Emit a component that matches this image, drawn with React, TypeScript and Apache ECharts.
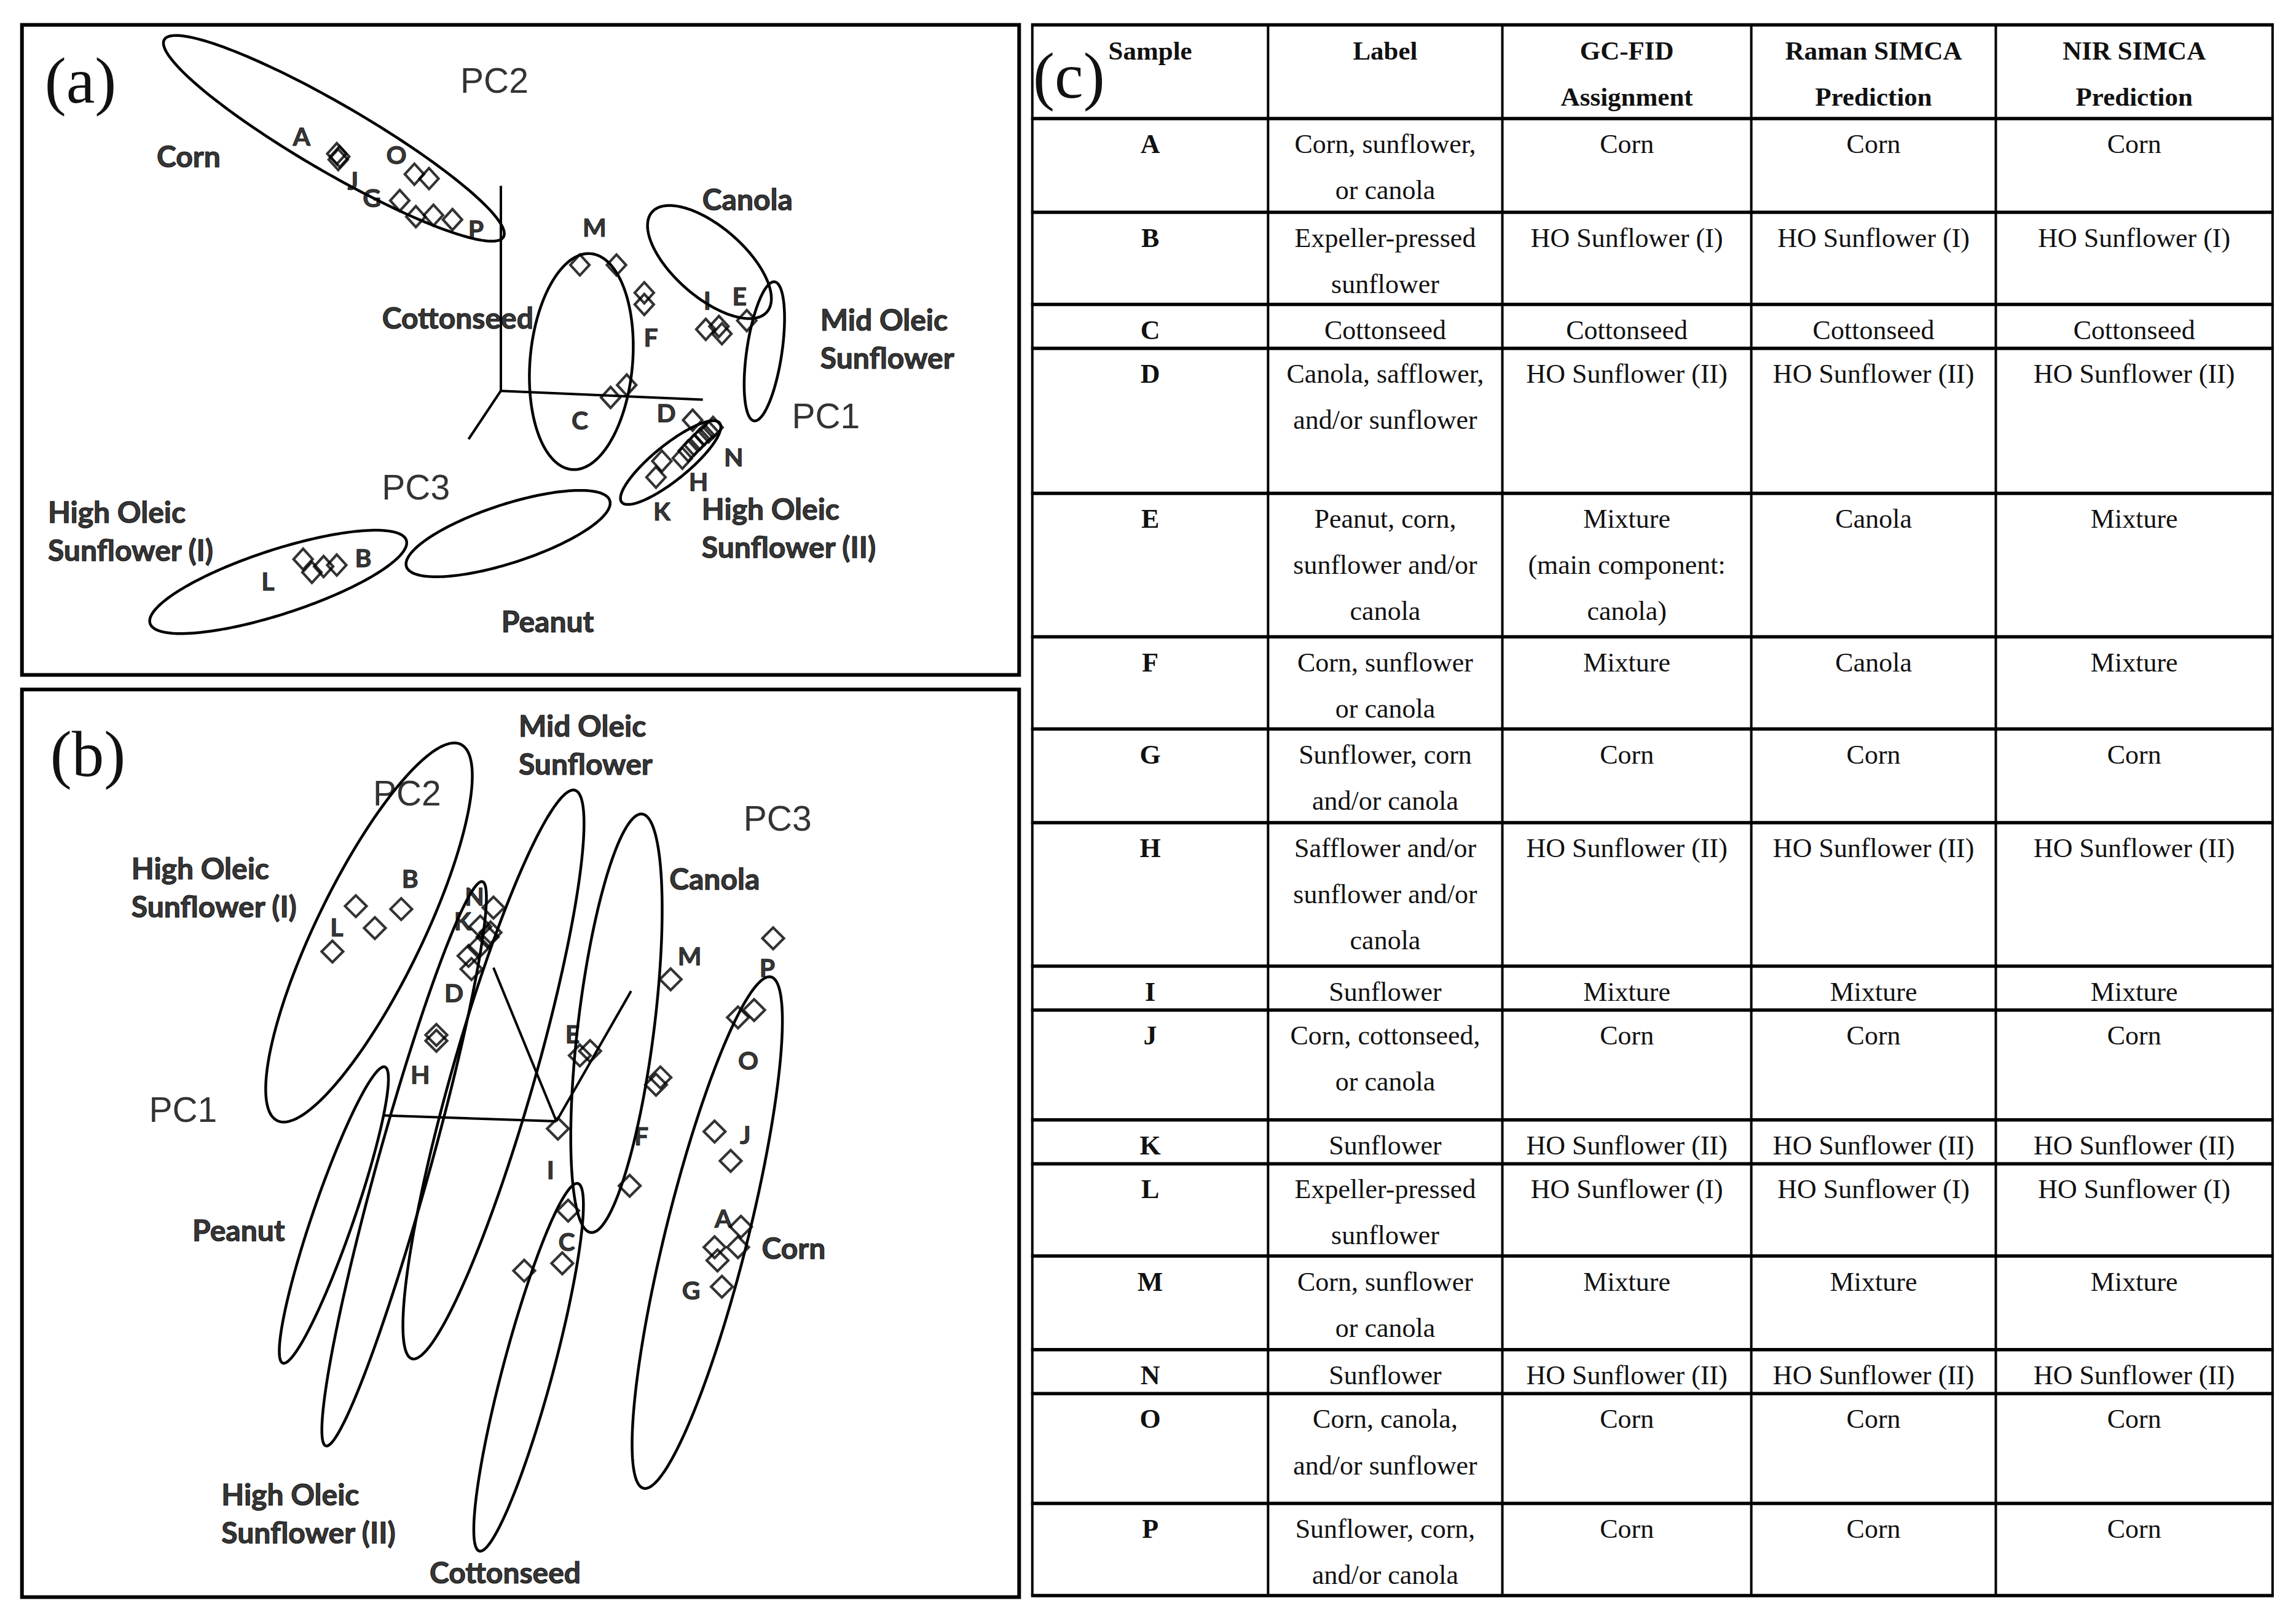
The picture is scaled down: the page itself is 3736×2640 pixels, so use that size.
import React, { useEffect, useRef } from "react";
import * as echarts from "echarts";

const W = 3736;
const H = 2640;
const S = 3736 / 1568;

// ---------- Panel (a): score positions (plot units) ----------
const aScores: [number, number][] = [
  [230, 105], [231, 109], [232, 107], [283, 119], [293, 122], [273, 137], [284, 148], [296, 147], [309, 150],
  [396, 181], [421, 181], [440, 200], [440, 208], [417, 271.5], [428, 263],
  [482, 225], [491, 223], [493, 228], [510, 219],
  [473, 287], [487, 292], [484, 295], [481, 297], [478, 300], [474, 304], [470, 308], [466, 313], [452, 315], [448, 326],
  [207, 382], [213, 391], [221, 387], [230, 386],
];
// ellipses: [cx, cy, semi-major, semi-minor, angle(deg)]
const aEllipseNames = ["Corn", "Cottonseed", "Canola", "Mid Oleic", "HO (II)", "Peanut", "HO (I)"];
const aEllipses: number[][] = [
  [228, 94.5, 134, 23, 30.2],
  [397, 247, 74, 35, -85],
  [484.5, 179, 52, 24, 41],
  [522, 240, 48, 12, -81.6],
  [458, 316, 43, 12, -39],
  [347, 364.5, 73, 20, -18],
  [190, 397.5, 92, 22, -18],
];
const aAxes: number[][][] = [
  [[342, 267], [342, 127]],
  [[342, 267], [480, 273]],
  [[342, 267], [320, 300]],
];
const aPointLabels: [string, number, number][] = [
  ["A", 206, 93], ["O", 270.7, 105.5], ["J", 241, 123], ["G", 254, 135], ["P", 325, 156.5],
  ["M", 406, 155], ["F", 444.5, 230], ["I", 483, 205], ["E", 505, 202], ["C", 396, 287],
  ["D", 455, 282], ["N", 501, 312], ["H", 477, 329], ["K", 452, 349], ["L", 183, 397], ["B", 248, 381],
];
const aGroupLabels: [string, number, number][] = [
  ["Corn", 128.8, 106.4], ["Canola", 510.5, 135.8], ["Cottonseed", 312.6, 216.7], ["Peanut", 374, 424],
];
const aGroupLabelsLeft: [string, number, number][] = [
  ["Mid Oleic\nSunflower", 560, 231],
  ["High Oleic\nSunflower (I)", 32.5, 362.5],
  ["High Oleic\nSunflower (II)", 479, 360.5],
];
const aPcLabels: [string, number, number][] = [["PC2", 337.6, 54.9], ["PC1", 564, 284], ["PC3", 284, 333]];

// ---------- Panel (b) ----------
const bScores: [number, number][] = [
  [243, 619], [256, 634], [274, 621], [227, 650],
  [337, 620], [328, 633], [333, 640], [327, 647], [320, 653], [322, 662], [335, 637],
  [298, 707], [298, 711],
  [396, 721], [403, 718],
  [448, 741], [451, 736], [430, 810],
  [381, 771],
  [458, 669],
  [528, 641],
  [504, 695], [515, 690],
  [488, 773], [499, 793],
  [388, 827], [384, 863], [358, 868],
  [506, 838], [488, 852], [504, 852], [490, 861], [493, 879],
];
const bEllipseNames = ["HO (I)", "Mid Oleic", "HO (II)", "Peanut", "Canola", "Cottonseed", "Corn"];
const bEllipses: number[][] = [
  [252, 637, 143, 36, -64],
  [337, 734, 202, 28, -74],
  [276, 795, 200, 18, -74.5],
  [228, 830, 107, 14, -71],
  [421, 699, 144, 26, -83],
  [361, 934, 130, 17, -75],
  [483, 842, 180, 28, -76],
];
const bAxes: number[][][] = [
  [[380, 766], [262, 762]],
  [[380, 766], [337, 661]],
  [[380, 766], [431, 677]],
];
const bPointLabels: [string, number, number][] = [
  ["B", 280, 600], ["L", 230, 633], ["N", 324, 612], ["K", 316, 629], ["D", 310, 678], ["H", 287, 734],
  ["M", 471, 653], ["P", 524, 661], ["E", 391, 706], ["O", 511, 724], ["F", 438, 776], ["J", 509, 775],
  ["I", 376, 799], ["A", 494, 832], ["C", 387, 848], ["G", 472, 881],
];
const bGroupLabels: [string, number, number][] = [
  ["Canola", 488, 600], ["Peanut", 163, 840], ["Corn", 542, 852], ["Cottonseed", 345, 1074],
];
const bGroupLabelsLeft: [string, number, number][] = [
  ["Mid Oleic\nSunflower", 354, 508.5],
  ["High Oleic\nSunflower (I)", 89.5, 606],
  ["High Oleic\nSunflower (II)", 151, 1033.5],
];
const bPcLabels: [string, number, number][] = [["PC2", 278, 542], ["PC3", 531, 559], ["PC1", 125, 758]];

// ---------- Table (c) ----------
const tableHeader = ["Sample", "Label", "GC-FID\nAssignment", "Raman SIMCA\nPrediction", "NIR SIMCA\nPrediction"];
const sampleIds = ["A", "B", "C", "D", "E", "F", "G", "H", "I", "J", "K", "L", "M", "N", "O", "P"];
const sampleLabels = [
  "Corn, sunflower,\nor canola",
  "Expeller-pressed\nsunflower",
  "Cottonseed",
  "Canola, safflower,\nand/or sunflower",
  "Peanut, corn,\nsunflower and/or\ncanola",
  "Corn, sunflower\nor canola",
  "Sunflower, corn\nand/or canola",
  "Safflower and/or\nsunflower and/or\ncanola",
  "Sunflower",
  "Corn, cottonseed,\nor canola",
  "Sunflower",
  "Expeller-pressed\nsunflower",
  "Corn, sunflower\nor canola",
  "Sunflower",
  "Corn, canola,\nand/or sunflower",
  "Sunflower, corn,\nand/or canola",
];
const gcfidAssignment = [
  "Corn", "HO Sunflower (I)", "Cottonseed", "HO Sunflower (II)", "Mixture\n(main component:\ncanola)",
  "Mixture", "Corn", "HO Sunflower (II)", "Mixture", "Corn", "HO Sunflower (II)", "HO Sunflower (I)",
  "Mixture", "HO Sunflower (II)", "Corn", "Corn",
];
const ramanPrediction = [
  "Corn", "HO Sunflower (I)", "Cottonseed", "HO Sunflower (II)", "Canola",
  "Canola", "Corn", "HO Sunflower (II)", "Mixture", "Corn", "HO Sunflower (II)", "HO Sunflower (I)",
  "Mixture", "HO Sunflower (II)", "Corn", "Corn",
];
const nirPrediction = [
  "Corn", "HO Sunflower (I)", "Cottonseed", "HO Sunflower (II)", "Mixture",
  "Mixture", "Corn", "HO Sunflower (II)", "Mixture", "Corn", "HO Sunflower (II)", "HO Sunflower (I)",
  "Mixture", "HO Sunflower (II)", "Corn", "Corn",
];

// table layout (reference pixels at 1568 wide)
const colEdges = [705, 866, 1026, 1196, 1363, 1552];
const rowEdges = [17, 81, 145, 208, 238, 337, 435, 498, 562, 660, 690, 765, 795, 858, 922, 952, 1027, 1090];

const ellipseSeries = (data: number[][], names: string[], gi: number) => ({
  type: "custom",
  xAxisIndex: gi,
  yAxisIndex: gi,
  silent: true,
  clip: false,
  data: data.map((d, i) => ({ name: names[i], value: d })),
  encode: { x: 0, y: 1 },
  renderItem: (params: any, api: any) => {
    const cx = api.value(0);
    const cy = api.value(1);
    const a = api.value(2);
    const b = api.value(3);
    const ang = (api.value(4) * Math.PI) / 180;
    const pts: number[][] = [];
    const n = 180;
    for (let i = 0; i < n; i++) {
      const t = (i / n) * Math.PI * 2;
      const ex = a * Math.cos(t);
      const ey = b * Math.sin(t);
      const x = cx + ex * Math.cos(ang) - ey * Math.sin(ang);
      const y = cy + ex * Math.sin(ang) + ey * Math.cos(ang);
      pts.push(api.coord([x, y]));
    }
    return {
      type: "polygon",
      shape: { points: pts },
      style: { fill: "none", stroke: "#000", lineWidth: 4.5 },
    };
  },
});

const axesSeries = (segs: number[][][], gi: number) => ({
  type: "lines",
  coordinateSystem: "cartesian2d",
  xAxisIndex: gi,
  yAxisIndex: gi,
  silent: true,
  symbol: "none",
  lineStyle: { color: "#000", width: 4, opacity: 1 },
  data: segs.map((s) => ({ coords: s })),
});

const scoreSeries = (pts: [number, number][], gi: number, size: number[]) => ({
  type: "scatter",
  xAxisIndex: gi,
  yAxisIndex: gi,
  silent: true,
  symbol: "diamond",
  symbolSize: size,
  itemStyle: { color: "rgba(255,255,255,0)", borderColor: "#000", borderWidth: 4.2 },
  data: pts,
});

const textSeries = (
  items: [string, number, number][],
  gi: number,
  font: { family: string; weight: string; size: number; border: number },
  left: boolean
) => ({
  type: "scatter",
  xAxisIndex: gi,
  yAxisIndex: gi,
  silent: true,
  symbolSize: 1,
  itemStyle: { color: "rgba(0,0,0,0)" },
  label: {
    show: true,
    formatter: "{b}",
    position: left ? "right" : "inside",
    distance: 0,
    align: left ? "left" : "center",
    verticalAlign: "middle",
    color: "#000",
    fontFamily: font.family,
    fontWeight: font.weight,
    fontSize: font.size,
    lineHeight: 62,
    textBorderColor: font.border > 0 ? "#000" : "transparent",
    textBorderWidth: font.border,
  },
  data: items.map(([t, x, y]) => ({ name: t, value: [x, y] })),
});

const groupFont = { family: "Lato", weight: "bold", size: 48, border: 1.2 };
const letterFont = { family: "Lato", weight: "bold", size: 41, border: 1 };
const pcFont = { family: "Liberation Sans", weight: "normal", size: 57, border: 0 };

function buildTable(): any[] {
  const els: any[] = [];
  const x0 = colEdges[0] * S;
  const x1 = colEdges[colEdges.length - 1] * S;
  const y0 = rowEdges[0] * S;
  const y1 = rowEdges[rowEdges.length - 1] * S;
  rowEdges.forEach((ry) => {
    els.push({
      type: "line",
      silent: true,
      shape: { x1: x0 - 2, y1: ry * S, x2: x1 + 2, y2: ry * S },
      style: { stroke: "#000", lineWidth: 5.5 },
    });
  });
  colEdges.forEach((cx) => {
    els.push({
      type: "line",
      silent: true,
      shape: { x1: cx * S, y1: y0, x2: cx * S, y2: y1 },
      style: { stroke: "#000", lineWidth: 4 },
    });
  });
  const rows: string[][] = [tableHeader];
  sampleIds.forEach((id, i) => {
    rows.push([id, sampleLabels[i], gcfidAssignment[i], ramanPrediction[i], nirPrediction[i]]);
  });
  rows.forEach((row, r) => {
    row.forEach((txt, c) => {
      const bold = r === 0 || c === 0;
      els.push({
        type: "text",
        silent: true,
        x: ((colEdges[c] + colEdges[c + 1]) / 2) * S,
        y: (rowEdges[r] + 1.75) * S,
        style: {
          text: txt,
          fill: "#111",
          fontFamily: "Liberation Serif",
          fontWeight: bold ? "bold" : "normal",
          fontSize: r === 0 ? 43 : 44,
          lineHeight: 31.5 * S,
          textAlign: "center",
          textVerticalAlign: "top",
        },
      });
    });
  });
  return els;
}

const panelTag = (t: string, x: number, y: number) => ({
  type: "text",
  silent: true,
  x: x * S,
  y: y * S,
  style: {
    text: t,
    fill: "#111",
    fontFamily: "Liberation Serif",
    fontSize: 105,
    textAlign: "center",
    textVerticalAlign: "middle",
  },
});

export default function App() {
  const ref = useRef<HTMLDivElement>(null);
  useEffect(() => {
    document.body.style.margin = "0";
    if (!ref.current) return;
    const chart = echarts.init(ref.current, undefined, { renderer: "svg", width: W, height: H });
    const option: any = {
      animation: false,
      backgroundColor: "#fff",
      grid: [
        {
          left: 15 * S, top: 17 * S, width: 681 * S, height: 444 * S,
          show: true, borderColor: "#000", borderWidth: 6, backgroundColor: "transparent",
        },
        {
          left: 15 * S, top: 471 * S, width: 681 * S, height: 620 * S,
          show: true, borderColor: "#000", borderWidth: 6, backgroundColor: "transparent",
        },
      ],
      xAxis: [
        { gridIndex: 0, type: "value", min: 15, max: 696, show: false },
        { gridIndex: 1, type: "value", min: 15, max: 696, show: false },
      ],
      yAxis: [
        { gridIndex: 0, type: "value", min: 17, max: 461, inverse: true, show: false },
        { gridIndex: 1, type: "value", min: 471, max: 1091, inverse: true, show: false },
      ],
      series: [
        ellipseSeries(aEllipses, aEllipseNames, 0),
        axesSeries(aAxes, 0),
        scoreSeries(aScores, 0, [31, 34]),
        textSeries(aPointLabels, 0, letterFont, false),
        textSeries(aGroupLabels, 0, groupFont, false),
        textSeries(aGroupLabelsLeft, 0, groupFont, true),
        textSeries(aPcLabels, 0, pcFont, false),
        ellipseSeries(bEllipses, bEllipseNames, 1),
        axesSeries(bAxes, 1),
        scoreSeries(bScores, 1, [35, 35]),
        textSeries(bPointLabels, 1, letterFont, false),
        textSeries(bGroupLabels, 1, groupFont, false),
        textSeries(bGroupLabelsLeft, 1, groupFont, true),
        textSeries(bPcLabels, 1, pcFont, false),
      ],
      graphic: [
        panelTag("(a)", 55, 55),
        panelTag("(b)", 60, 515),
        panelTag("(c)", 730, 52),
        ...buildTable(),
      ],
    };
    chart.setOption(option);
    return () => chart.dispose();
  }, []);
  return <div ref={ref} style={{ width: W, height: H }} />;
}
